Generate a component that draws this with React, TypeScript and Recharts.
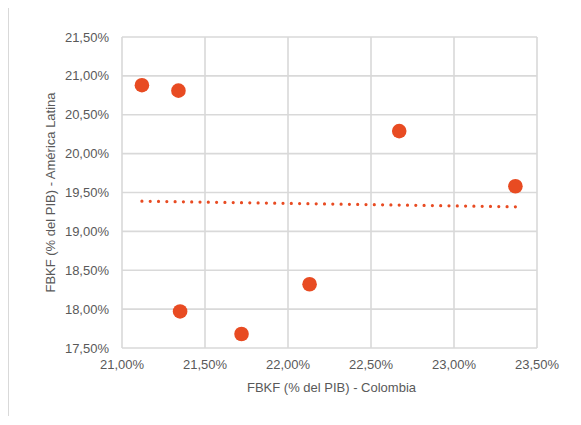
import React from "react";
import { ScatterChart, Scatter, XAxis, YAxis, CartesianGrid } from "recharts";

// Gross fixed capital formation (% of GDP): Colombia vs. Latin America
const colombia = [21.12, 21.34, 22.67, 23.37, 21.35, 21.72, 22.13];
const americaLatina = [20.88, 20.81, 20.29, 19.58, 17.97, 17.68, 18.32];

const xTicks = [21, 21.5, 22, 22.5, 23, 23.5];
const yTicks = [17.5, 18, 18.5, 19, 19.5, 20, 20.5, 21, 21.5];

const xTitle = "FBKF (% del PIB) - Colombia";
const yTitle = "FBKF (% del PIB) - América Latina";

const points = colombia.map((x, i) => ({ x, y: americaLatina[i] }));

const DOT = "#E84B22";
const GRID = "#d9d9d9";
const TEXT = "#595959";
const FONT = "'Liberation Sans', Arial, sans-serif";

const pct = (v: number) => v.toFixed(2).replace(".", ",") + "%";

const Dot = (props: any) => (
  <circle cx={props.cx} cy={props.cy} r={7.3} fill={DOT} />
);

const XTitle = (props: any) => {
  const vb = props.viewBox;
  return (
    <text
      x={vb.x + vb.width / 2 + 2}
      y={vb.y + 44}
      textAnchor="middle"
      fill={TEXT}
      fontSize={13}
      fontFamily={FONT}
    >
      {xTitle}
    </text>
  );
};

const YTitle = (props: any) => {
  const vb = props.viewBox;
  const cx = vb.x + 42;
  const cy = vb.y + vb.height / 2;
  return (
    <text
      x={cx}
      y={cy}
      transform={`rotate(-90, ${cx}, ${cy})`}
      textAnchor="middle"
      dominantBaseline="central"
      fill={TEXT}
      fontSize={13}
      fontFamily={FONT}
    >
      {yTitle}
    </text>
  );
};

export default function App() {
  return (
    <div
      style={{
        width: 565,
        height: 409,
        boxSizing: "border-box",
        borderTop: `1.5px solid ${GRID}`,
        borderLeft: `1.5px solid ${GRID}`,
        marginTop: -1,
        position: "relative",
        background: "#fff",
      }}
    >
      <div style={{ position: "absolute", left: -1.5, top: -0.5 }}>
        <ScatterChart
          width={565}
          height={409}
          margin={{ top: 29, right: 36, bottom: 0, left: 0 }}
        >
          <CartesianGrid stroke={GRID} strokeWidth={1.6} />
          <XAxis
            type="number"
            dataKey="x"
            domain={[21, 23.5]}
            ticks={xTicks}
            tickFormatter={pct}
            axisLine={false}
            tickLine={false}
            tickSize={0}
            tickMargin={12}
            height={69}
            tick={{ fill: TEXT, fontSize: 13, fontFamily: FONT }}
            interval={0}
            label={<XTitle />}
          />
          <YAxis
            type="number"
            dataKey="y"
            domain={[17.5, 21.5]}
            ticks={yTicks}
            tickFormatter={pct}
            axisLine={false}
            tickLine={false}
            tickSize={0}
            tickMargin={13}
            width={114}
            tick={{ fill: TEXT, fontSize: 13, fontFamily: FONT }}
            interval={0}
            label={<YTitle />}
          />
          <Scatter
            data={points}
            shape={<Dot />}
            line={{
              stroke: DOT,
              strokeWidth: 3.2,
              strokeDasharray: "0 8.3",
              strokeLinecap: "round",
            }}
            lineType="fitting"
            isAnimationActive={false}
          />
        </ScatterChart>
      </div>
    </div>
  );
}
